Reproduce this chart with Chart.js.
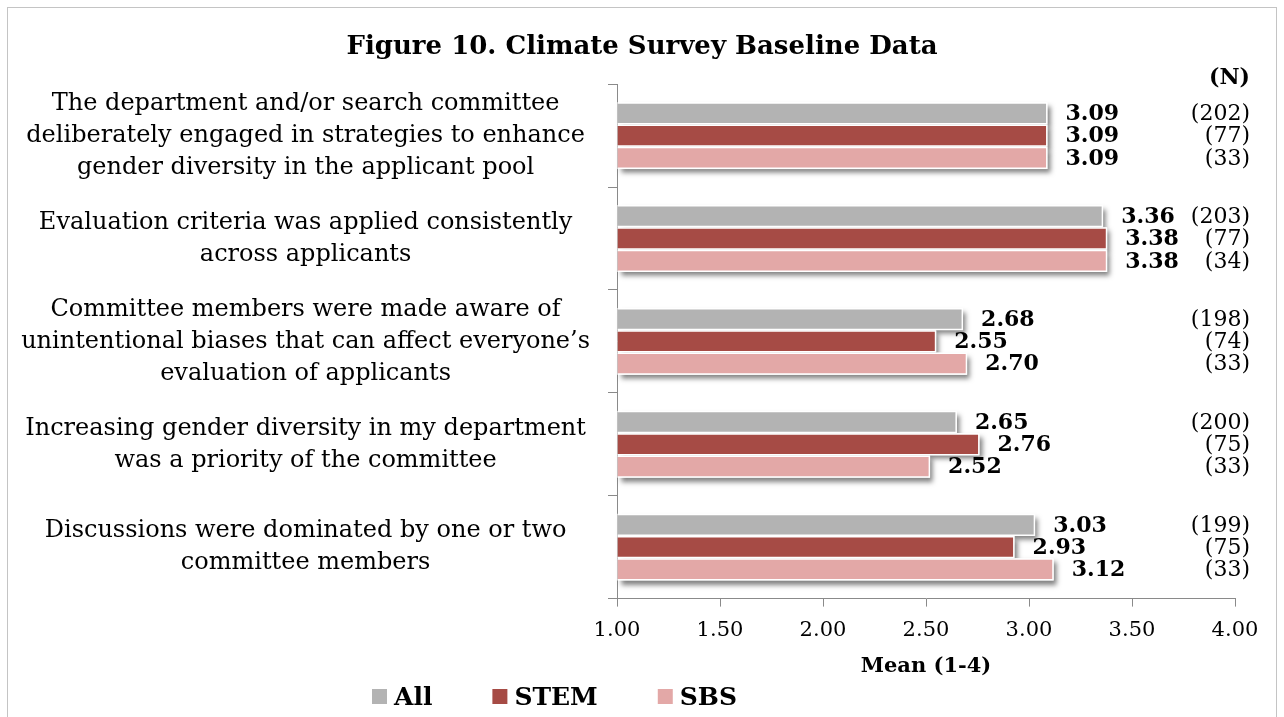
<!DOCTYPE html>
<html>
<head>
<meta charset="utf-8">
<style>
  html, body { margin: 0; padding: 0; background: #fff; }
  #wrap { width: 1284px; height: 717px; }
</style>
<script src="https://cdn.jsdelivr.net/npm/chart.js"></script>
</head>
<body>
<div id="wrap"><canvas id="myChart" width="1284" height="717"></canvas></div>
<script>
// Data
const categories = [
  ['The department and/or search committee', 'deliberately engaged in strategies to enhance', 'gender diversity in the applicant pool'],
  ['Evaluation criteria was applied consistently', 'across applicants'],
  ['Committee members were made aware of', 'unintentional biases that can affect everyone\u2019s', 'evaluation of applicants'],
  ['Increasing gender diversity in my department', 'was a priority of the committee'],
  ['Discussions were dominated by one or two', 'committee members']
];
const seriesNames = ['All', 'STEM', 'SBS'];
const allValues = [3.09, 3.36, 2.68, 2.65, 3.03];
const stemValues = [3.09, 3.38, 2.55, 2.76, 2.93];
const sbsValues = [3.09, 3.38, 2.70, 2.52, 3.12];
const allN = [202, 203, 198, 200, 199];
const stemN = [77, 77, 74, 75, 75];
const sbsN = [33, 34, 33, 33, 33];
const xTicks = [1.00, 1.50, 2.00, 2.50, 3.00, 3.50, 4.00];

const colors = ['#b3b3b3', '#a64b45', '#e3a8a7'];
const counts = [allN, stemN, sbsN];
const serif = "'DejaVu Serif', serif";

// frame around the whole figure, title centred on the page
const framePlugin = {
  id: 'frame',
  afterLayout(chart) {
    chart.titleBlock.left = 0;
    chart.titleBlock.right = chart.width;
  },
  beforeDraw(chart) {
    const ctx = chart.ctx;
    ctx.save();
    ctx.fillStyle = '#fff';
    ctx.fillRect(0, 0, chart.width, chart.height);
    ctx.strokeStyle = '#c4c4c4';
    ctx.lineWidth = 1;
    ctx.strokeRect(7.5, 7.5, 1269, 740);
    ctx.restore();
  }
};

// soft drop shadow under every bar
const shadowPlugin = {
  id: 'barShadow',
  beforeDatasetsDraw(chart) {
    const ctx = chart.ctx;
    ctx.save();
    ctx.shadowColor = 'rgba(0,0,0,0.5)';
    ctx.shadowBlur = 5;
    ctx.shadowOffsetX = 3;
    ctx.shadowOffsetY = 4;
    ctx.fillStyle = '#ffffff';
    chart.data.datasets.forEach((ds, i) => {
      chart.getDatasetMeta(i).data.forEach(bar => {
        const p = bar.getProps(['x', 'y', 'base', 'height'], true);
        ctx.fillRect(p.base, p.y - p.height / 2, p.x - p.base, p.height);
      });
    });
    ctx.restore();
  }
};

// value labels, N column and custom legend
const labelPlugin = {
  id: 'labels',
  afterDraw(chart) {
    const ctx = chart.ctx;
    ctx.save();
    ctx.textBaseline = 'middle';
    chart.data.datasets.forEach((ds, i) => {
      chart.getDatasetMeta(i).data.forEach((bar, j) => {
        ctx.fillStyle = '#000';
        ctx.font = "bold 22px " + serif;
        ctx.textAlign = 'left';
        ctx.fillText(ds.data[j].toFixed(2), bar.x + 18, bar.y + 1);
        ctx.font = "22px " + serif;
        ctx.textAlign = 'right';
        ctx.fillText('(' + counts[i][j] + ')', 1250, bar.y + 1);
      });
    });
    ctx.font = "bold 22px " + serif;
    ctx.textAlign = 'right';
    ctx.fillText('(N)', 1250, 78);

    // legend
    let x = 372;
    const y = 697;
    ctx.font = "bold 25px " + serif;
    ctx.textAlign = 'left';
    chart.data.datasets.forEach((ds, i) => {
      ctx.fillStyle = ds.backgroundColor;
      ctx.fillRect(x, y - 8, 15, 15);
      ctx.fillStyle = '#000';
      ctx.fillText(ds.label, x + 22, y + 1);
      x += 22 + ctx.measureText(ds.label).width + 60;
    });
    ctx.restore();
  }
};

new Chart(document.getElementById('myChart'), {
  type: 'bar',
  data: {
    labels: categories,
    datasets: [
      { label: seriesNames[0], data: allValues, backgroundColor: colors[0] },
      { label: seriesNames[1], data: stemValues, backgroundColor: colors[1] },
      { label: seriesNames[2], data: sbsValues, backgroundColor: colors[2] }
    ]
  },
  options: {
    indexAxis: 'y',
    responsive: false,
    animation: false,
    devicePixelRatio: 1,
    datasets: {
      bar: {
        base: 1,
        categoryPercentage: 0.65,
        barPercentage: 1.0,
        borderColor: '#ffffff',
        borderWidth: 1.5,
        borderSkipped: 'start'
      }
    },
    layout: { padding: { left: 0, right: 49, top: 0, bottom: 38 } },
    plugins: {
      legend: { display: false },
      tooltip: { enabled: false },
      title: {
        display: true,
        text: 'Figure 10. Climate Survey Baseline Data',
        color: '#000',
        font: { family: serif, size: 26, weight: 'bold', lineHeight: 1.2 },
        padding: { top: 32, bottom: 21 }
      }
    },
    scales: {
      x: {
        type: 'linear',
        min: 1,
        max: 4,
        afterBuildTicks(scale) {
          scale.ticks = xTicks.map(v => ({ value: v }));
        },
        ticks: {
          color: '#000',
          font: { family: serif, size: 21, lineHeight: 1.2 },
          padding: 11,
          callback: v => Number(v).toFixed(2)
        },
        grid: { drawOnChartArea: false, tickLength: 8, color: '#8a8a8a' },
        border: { display: true, color: '#8a8a8a' },
        title: {
          display: true,
          text: 'Mean (1-4)',
          color: '#000',
          font: { family: serif, size: 21, weight: 'bold', lineHeight: 1.2 },
          padding: { top: 0, bottom: 0 }
        }
      },
      y: {
        afterFit(scale) { scale.width = 617; },
        ticks: {
          color: '#000',
          crossAlign: 'center',
          padding: 18,
          font: { family: serif, size: 24, lineHeight: 1.333 }
        },
        grid: { drawOnChartArea: false, offset: true, tickLength: 9, color: '#8a8a8a' },
        border: { display: true, color: '#8a8a8a' }
      }
    }
  },
  plugins: [framePlugin, shadowPlugin, labelPlugin]
});
</script>
</body>
</html>
